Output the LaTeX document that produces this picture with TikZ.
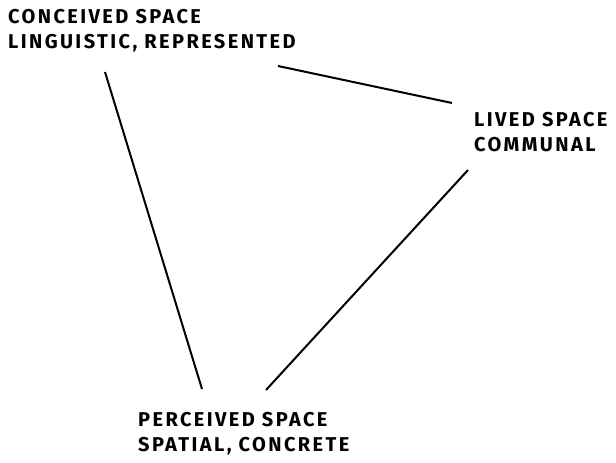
\documentclass[tikz,border=0pt]{standalone}
\usepackage{fontspec}
\setmainfont{Fira Sans}[LetterSpace=12]
\usetikzlibrary{positioning}

\begin{document}
\begin{tikzpicture}[
  x=1pt, y=-1pt,
  spacelabel/.style={anchor=north west, inner sep=0pt, align=left,
    font=\fontsize{20}{25}\selectfont\bfseries},
  link/.style={line width=2pt}
]
  \useasboundingbox (0,0) rectangle (616,463);
  % the three spaces
  \node[spacelabel] (conceived) at (8,9.5) {CONCEIVED SPACE\\LINGUISTIC, REPRESENTED};
  \node[spacelabel] (lived) at (474,112) {LIVED SPACE\\COMMUNAL};
  \node[spacelabel] (perceived) at (138,412) {PERCEIVED SPACE\\SPATIAL, CONCRETE};
  % line ends
  \coordinate (c1) at (278,66);
  \coordinate (c2) at (105,72);
  \coordinate (l1) at (452,103);
  \coordinate (l2) at (468,170);
  \coordinate (p1) at (202,389);
  \coordinate (p2) at (266,390);
  \draw[link] (c1) -- (l1);
  \draw[link] (c2) -- (p1);
  \draw[link] (l2) -- (p2);
\end{tikzpicture}
\end{document}
